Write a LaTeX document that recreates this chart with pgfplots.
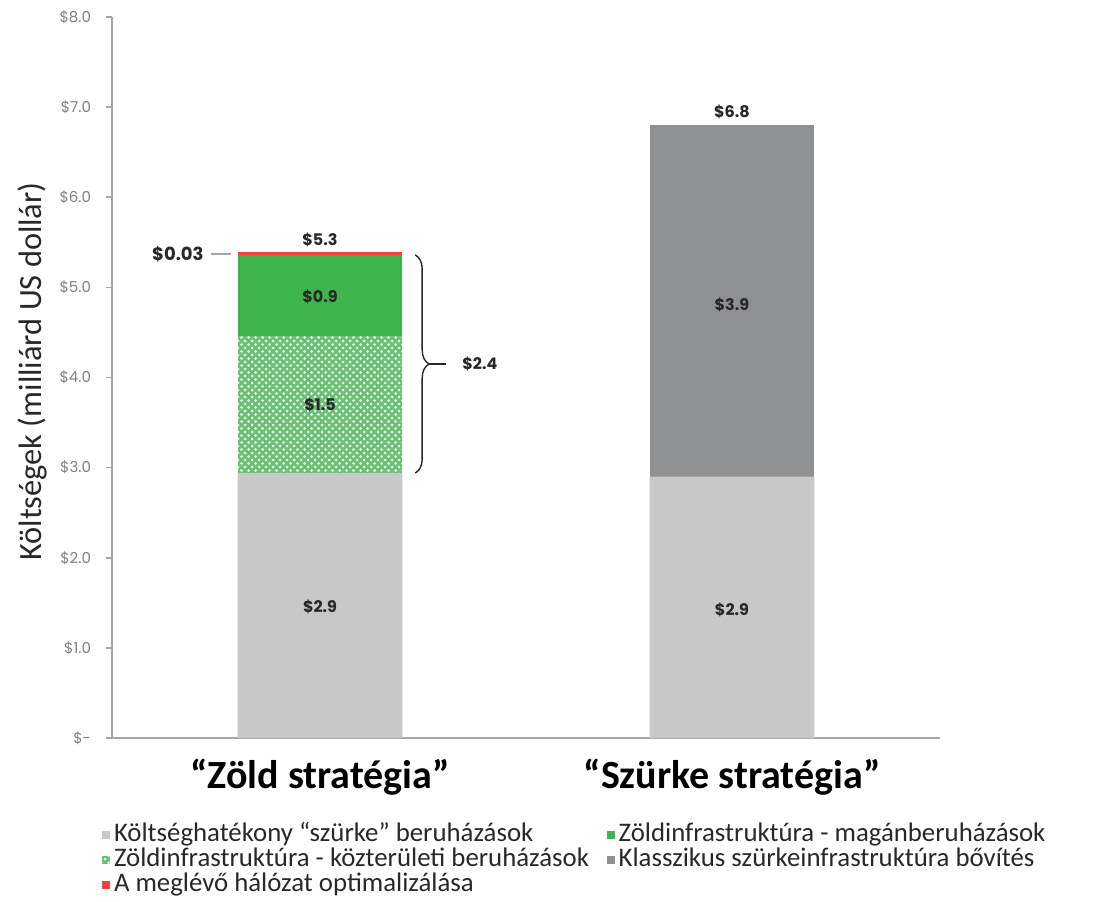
\documentclass[border=0pt]{standalone}
\usepackage{fontspec}
\setmainfont{Carlito}
\newfontfamily\cg{Poppins}
\usepackage{pgfplots}
\pgfplotsset{compat=1.18}
\usetikzlibrary{patterns,decorations.pathreplacing}
\definecolor{lgray}{RGB}{200,200,200}
\definecolor{dgray}{RGB}{143,144,146}
\definecolor{sgreen}{RGB}{62,181,76}
\definecolor{hgreen}{RGB}{108,192,118}
\definecolor{sred}{RGB}{232,68,66}
\definecolor{axgray}{RGB}{166,166,166}
\definecolor{tickgray}{RGB}{128,128,128}
\definecolor{lbl}{RGB}{40,40,40}
\pgfdeclarepatternformonly{diadots}{\pgfpoint{-1pt}{-1pt}}{\pgfpoint{4.5pt}{4.5pt}}{\pgfpoint{3.5pt}{3.5pt}}{%
  \pgfpathcircle{\pgfpoint{0pt}{0pt}}{0.75pt}%
  \pgfpathcircle{\pgfpoint{1.75pt}{1.75pt}}{0.75pt}%
  \pgfusepath{fill}}
\pgfplotsset{legsq/.style={legend image code/.code={\path[##1] (0pt,-1.9pt) rectangle (3.8pt,1.9pt);}}}
\begin{document}
\begin{tikzpicture}
\useasboundingbox (-56pt,-81.5pt) rectangle (497.5pt,369pt);
\begin{axis}[
  at={(0pt,0pt)}, anchor=south west,
  scale only axis, width=414pt, height=360.5pt,
  ybar, bar shift=0pt, bar width=0.4,
  xmin=-0.5049, xmax=1.5049, ymin=0, ymax=8,
  axis x line*=bottom, axis y line*=left,
  axis line style={axgray, line width=1pt, -},
  xtick={0,1}, xticklabels={“Zöld stratégia”, “Szürke stratégia”},
  x tick style={draw=none},
  xticklabel style={font=\fontsize{20}{24}\selectfont\bfseries, text=black, yshift=-4pt},
  ytick={0,1,...,8},
  yticklabels={\$-,\$1.0,\$2.0,\$3.0,\$4.0,\$5.0,\$6.0,\$7.0,\$8.0},
  y tick style={axgray, line width=0.8pt},
  tick align=outside, major tick length=3pt,
  yticklabel style={font=\cg\fontsize{7.5}{9}\selectfont, text=tickgray, xshift=-4pt},
  clip=false,
  legend cell align=left,
  legend style={at={(0,0)}, anchor=north west, xshift=-8pt, yshift=-40pt,
    draw=none, fill=none, legend columns=2, row sep=0pt,
    font=\fontsize{13.4}{15}\selectfont, text=lbl,
    nodes={text height=9.2pt, text depth=3pt, inner ysep=0.15pt},
    /tikz/every even column/.append style={column sep=7pt}},
]
% stacked segments drawn as cumulative tops, top segment first
% Zöld: 2.94 (gray) + 1.52 (hatched) + 0.90 (green) + 0.03 (red)
% Szürke: 2.90 (gray) + 3.90 (dark gray)
\addplot[forget plot, fill=sred, draw=none] coordinates {(0,5.39)};
\addplot[forget plot, fill=sgreen, draw=none] coordinates {(0,5.36)};
\addplot[forget plot, fill=hgreen, draw=none, postaction={pattern=diadots, pattern color=white!85!hgreen}] coordinates {(0,4.46)};
\addplot[forget plot, fill=dgray, draw=none] coordinates {(1,6.80)};
\addplot[forget plot, fill=lgray, draw=none] coordinates {(0,2.94) (1,2.90)};

\addlegendimage{legsq, fill=lgray, draw=none}
\addlegendentry{Költséghatékony “szürke” beruházások}
\addlegendimage{legsq, fill=sgreen, draw=none}
\addlegendentry{Zöldinfrastruktúra - magánberuházások}
\addlegendimage{legsq, fill=hgreen, draw=none, postaction={pattern=diadots, pattern color=white!85!hgreen}}
\addlegendentry{Zöldinfrastruktúra - közterületi beruházások}
\addlegendimage{legsq, fill=dgray, draw=none}
\addlegendentry{Klasszikus szürkeinfrastruktúra bővítés}
\addlegendimage{legsq, fill=sred, draw=none}
\addlegendentry{A meglévő hálózat optimalizálása}

\begin{scope}[every node/.style={font=\cg\bfseries\fontsize{8}{9}\selectfont, text=lbl}]
\node at (axis cs:0,1.45) {\$2.9};
\node at (axis cs:0,3.70) {\$1.5};
\node at (axis cs:0,4.89) {\$0.9};
\node at (axis cs:0,5.53) {\$5.3};
\node at (axis cs:1,1.42) {\$2.9};
\node at (axis cs:1,4.81) {\$3.9};
\node at (axis cs:1,6.95) {\$6.8};
\node at (axis cs:0.388,4.15) {\$2.4};
\node[font=\cg\bfseries\fontsize{9}{10}\selectfont] at (axis cs:-0.345,5.37) {\$0.03};
\end{scope}
\draw[axgray, line width=0.6pt] (axis cs:-0.265,5.37) -- (axis cs:-0.215,5.37);
\draw[lbl, line width=0.7pt, decorate, decoration={brace, amplitude=7pt}] (axis cs:0.231,5.36) -- (axis cs:0.231,2.94);
\draw[lbl, line width=0.7pt] ([xshift=7pt]axis cs:0.231,4.15) -- (axis cs:0.305,4.15);
\node[rotate=90, font=\fontsize{16.2}{19}\selectfont, text=lbl] at ([xshift=-40pt,yshift=3pt]rel axis cs:0,0.5) {Költségek (milliárd US dollár)};
\end{axis}
\end{tikzpicture}
\end{document}
